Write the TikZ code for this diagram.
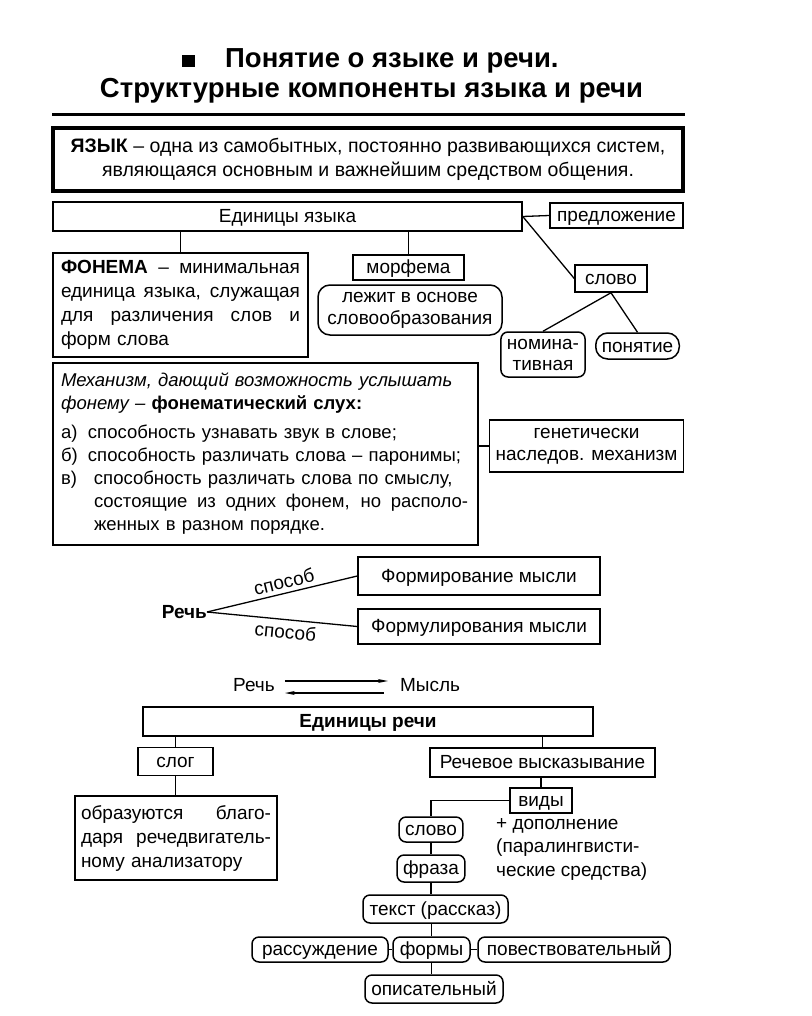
\documentclass[tikz,border=0pt]{standalone}
\usepackage{fontspec}
\setmainfont{Liberation Sans}
\usetikzlibrary{arrows.meta,calc}
\newcommand{\jstline}[2]{\leavevmode\hbox to #1{\spaceskip=0.3em plus 1fil\xspaceskip=\spaceskip\relax #2}}
\begin{document}
\begin{tikzpicture}[x=1pt,y=-1pt,
  every node/.style={font=\fontsize{19}{23}\selectfont, inner sep=0pt},
  box/.style={draw, line width=1.5pt, inner xsep=6pt},
  one/.style={text height=15pt, text depth=3pt},
  rbox/.style={box, one, rounded corners=7pt},
  link/.style={line width=1.3pt},
  titlefont/.style={font=\bfseries\fontsize{27.5}{30}\selectfont},
  arr/.style={line width=1.1pt, -{Stealth[length=10pt,width=4pt]}},
]
\fill[white] (0,0) rectangle (811,1016);
\useasboundingbox (0,0) rectangle (811,1016);

% title
\node[fill, minimum width=13pt, minimum height=12pt] (bullet) at (188.5,61) {};
\node[titlefont, anchor=base west] (t1) at (225,68) {Понятие о языке и речи.};
\node[titlefont, anchor=base] (t2) at (371.5,98) {Структурные компоненты языка и речи};
\coordinate (ruleL) at (52,115);
\coordinate (ruleR) at (685,115);
\draw[line width=3pt] (ruleL) -- (ruleR);

% language
\node[draw, line width=3.5pt, minimum width=630pt, minimum height=63pt, align=center, font=\fontsize{19.5}{24}\selectfont] (yazyk) at (368,159.5)
  {\textbf{ЯЗЫК} – одна из самобытных, постоянно развивающихся систем,\\являющаяся основным и важнейшим средством общения.};

\node[box, one, minimum width=469pt, minimum height=29pt] (edYaz) at (287.5,216.5) {Единицы языка};
\node[box, one, minimum width=133pt, minimum height=25pt] (predl) at (616.5,215.5) {предложение};
\node[box, one, minimum width=72pt, minimum height=27pt] (slovoA) at (611,278.5) {слово};
\node[box, rounded corners=7pt, minimum width=80pt, minimum height=45pt, align=center, font=\fontsize{19}{21}\selectfont] (nomin) at (543,354.5) {номина-\\тивная};
\node[rbox, rounded corners=12pt, minimum width=79pt, minimum height=26pt] (ponyat) at (637.5,346) {понятие};

\node[box, inner xsep=8pt, minimum width=255pt, minimum height=104pt, text width=239pt, align=left, font=\fontsize{19}{24}\selectfont] (fonema) at (180.5,305)
  {\jstline{239pt}{\textbf{ФОНЕМА} – минимальная}\\\jstline{239pt}{единица языка, служащая}\\\jstline{239pt}{для различения слов и}\\форм слова};
\node[box, one, minimum width=111pt, minimum height=25pt] (morf) at (408.5,267.5) {морфема};
\node[box, rounded corners=12pt, minimum width=184pt, minimum height=50pt, align=center, font=\fontsize{19}{22}\selectfont] (lezh) at (410,310) {лежит в основе\\словообразования};

\node[box, inner xsep=8pt, minimum width=425pt, minimum height=182pt, text width=409pt, align=left, font=\fontsize{18.5}{23}\selectfont] (meh) at (265.5,454)
  {\textit{Механизм, дающий возможность услышать}\\\textit{фонему –} \textbf{фонематический слух:}\\[6pt]\makebox[27pt][l]{а)}способность узнавать звук в слове;\\\makebox[27pt][l]{б)}способность различать слова – паронимы;\\\makebox[33pt][l]{в)}способность различать слова по смыслу,\\\hspace*{33pt}\jstline{374pt}{состоящие из одних фонем, но располо-}\\\hspace*{33pt}женных в разном порядке.};
\node[box, minimum width=193pt, minimum height=52pt, align=center, font=\fontsize{19}{22}\selectfont] (genet) at (586.5,446) {генетически\\наследов. механизм};

\draw[link] (edYaz.east) -- (predl.west);
\draw[link] (edYaz.east) -- (slovoA.west);
\draw[link] (slovoA.south) -- (nomin.north);
\draw[link] (slovoA.south) -- (ponyat.north);
\draw[link] (edYaz.south -| fonema.north) -- (fonema.north);
\draw[link] (edYaz.south -| morf.north) -- (morf.north);
\draw[link] (genet.west -| meh.east) -- (genet.west);

% speech ways
\node[font=\bfseries\fontsize{19}{22}\selectfont, anchor=east] (rech) at (207,612) {Речь};
\node[box, one, minimum width=242pt, minimum height=38pt] (form1) at (479,576) {Формирование мысли};
\node[box, one, minimum width=242pt, minimum height=35pt] (form2) at (479,626.5) {Формулирования мысли};
\draw[link] (rech.east) -- (form1.west) node[pos=0.53, above=4pt, sloped] (sp1) {способ};
\draw[link] (rech.east) -- (form2.west) node[pos=0.53, below=4pt, sloped] (sp2) {способ};

\node (rechB) at (254,685) {Речь};
\node (mysl) at (430,685) {Мысль};
\draw[arr] ([xshift=10pt,yshift=4pt]rechB.east) -- ([xshift=-12pt,yshift=4pt]mysl.west);
\draw[arr] ([xshift=-16pt,yshift=-8pt]mysl.west) -- ([xshift=10pt,yshift=-8pt]rechB.east);

% units of speech
\node[box, one, minimum width=450pt, minimum height=29pt, font=\bfseries\fontsize{19}{22}\selectfont] (edRech) at (368,721.5) {Единицы речи};
\node[box, one, minimum width=75pt, minimum height=28pt] (slog) at (175.5,761.5) {слог};
\node[box, inner xsep=6pt, minimum width=202pt, minimum height=84pt, text width=190pt, align=left, font=\fontsize{19}{24}\selectfont] (obraz) at (176,838)
  {\jstline{190pt}{образуются \ благо-}\\\jstline{190pt}{даря речедвигатель-}\\ному анализатору};
\node[box, one, minimum width=225pt, minimum height=29pt] (rvys) at (542.5,762.5) {Речевое высказывание};
\node[box, one, minimum width=62pt, minimum height=25pt] (vidy) at (541,800.5) {виды};
\node[anchor=west, align=left, font=\fontsize{19}{23.5}\selectfont] (dop) at (496,849) {+ дополнение\\(паралингвисти-\\ческие средства)};
\node[rbox, minimum width=58pt, minimum height=25pt] (slovoB) at (431,829.5) {слово};
\node[rbox, minimum width=64pt, minimum height=27pt] (fraza) at (431,868.5) {фраза};
\node[rbox, minimum width=145pt, minimum height=28pt] (tekst) at (435.5,909) {текст (рассказ)};
\node[rbox, minimum width=77pt, minimum height=25pt] (formy) at (431.5,949.5) {формы};
\node[rbox, minimum width=136pt, minimum height=25pt] (rassuzh) at (320,949.5) {рассуждение};
\node[rbox, minimum width=192pt, minimum height=25pt] (povest) at (574,949.5) {повествовательный};
\node[rbox, minimum width=138pt, minimum height=28pt] (opis) at (434,989) {описательный};

\draw[link] (edRech.south -| slog.north) -- (slog.north);
\draw[link] (slog.south) -- (obraz.north -| slog.south);
\draw[link] (edRech.south -| rvys.north) -- (rvys.north);
\draw[link] (rvys.south -| vidy.north) -- (vidy.north);
\draw[link] (vidy.west) -| (slovoB.north);
\draw[link] (slovoB.south) -- (fraza.north);
\draw[link] (fraza.south) -- (tekst.north -| fraza.south);
\draw[link] (tekst.south -| formy.north) -- (formy.north);
\draw[link] (formy.south) -- (opis.north -| formy.south);
\draw[link] (rassuzh.east) -- (formy.west);
\draw[link] (formy.east) -- (povest.west);
\end{tikzpicture}
\end{document}
